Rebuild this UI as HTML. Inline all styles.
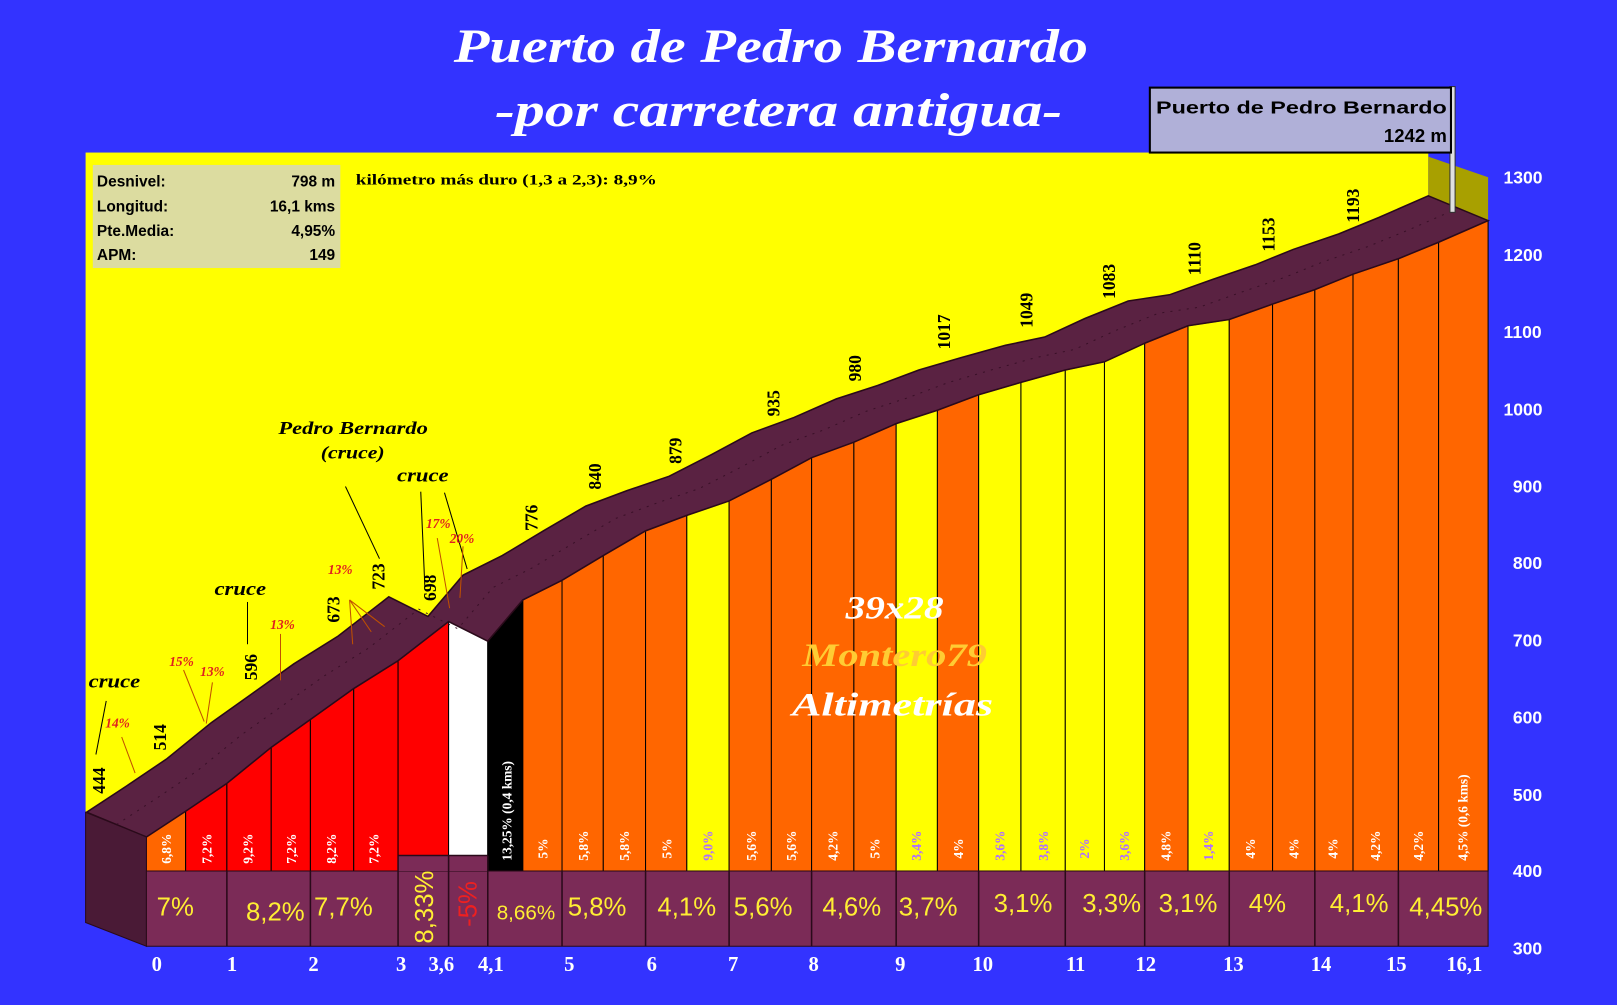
<!DOCTYPE html>
<html><head><meta charset="utf-8"><style>
html,body{margin:0;padding:0;background:#3333ff;width:1617px;height:1005px;overflow:hidden}
svg{display:block}
.t{font-family:"Liberation Serif",serif;font-weight:bold;font-style:italic;fill:#fff}
.s{font-family:"Liberation Sans",sans-serif;font-weight:bold}
.k{font-family:"Liberation Serif",serif;font-weight:bold;fill:#fff;font-size:20px;text-anchor:middle}
.y{font-family:"Liberation Sans",sans-serif;font-weight:bold;fill:#fff;font-size:17px}
.p{font-family:"Liberation Sans",sans-serif;fill:#ffee33;font-size:25px;text-anchor:middle}
.sp{font-family:"Liberation Serif",serif;font-weight:bold;fill:#fff;font-size:13px}
.el{font-family:"Liberation Serif",serif;font-weight:bold;fill:#000;font-size:17px}
.an{font-family:"Liberation Serif",serif;font-weight:bold;font-style:italic;fill:#000;font-size:18px}
.rp{font-family:"Liberation Serif",serif;font-weight:bold;font-style:italic;fill:#e02020;font-size:13px}
</style></head><body>
<svg width="1617" height="1005" viewBox="0 0 1568 975" preserveAspectRatio="none" xmlns="http://www.w3.org/2000/svg">
<rect width="1568" height="975" fill="#3333ff"/>
<text class="t" x="440" y="60" font-size="46" textLength="615" lengthAdjust="spacingAndGlyphs">Puerto de Pedro Bernardo</text>
<text class="t" x="480" y="122" font-size="46" textLength="550" lengthAdjust="spacingAndGlyphs">-por carretera antigua-</text>
<!-- yellow wall -->
<rect x="83" y="148" width="1302" height="640" fill="#ffff00"/>
<polygon points="1385,152 1443,172 1443,214 1385,190" fill="#a8a000"/>
<!-- bars -->
<g stroke="#000" stroke-width="1">
<polygon points="142,845 142,812 180,787 180,845" fill="#ff6600"/>
<polygon points="180,845 180,787 220,760 220,845" fill="#ff0000"/>
<polygon points="220,845 220,760 263,725 263,845" fill="#ff0000"/>
<polygon points="263,845 263,725 301,698 301,845" fill="#ff0000"/>
<polygon points="301,845 301,698 343,668 343,845" fill="#ff0000"/>
<polygon points="343,845 343,668 386,641 386,845" fill="#ff0000"/>
<polygon points="386,830 386,641 435,603 435,830" fill="#ff0000"/>
<polygon points="435,830 435,603 473,622 473,830" fill="#ffffff"/>
<polygon points="473,845 473,622 507,582 507,845" fill="#000000"/>
<polygon points="507,845 507,582 545,563 545,845" fill="#ff6600"/>
<polygon points="545,845 545,563 585,539 585,845" fill="#ff6600"/>
<polygon points="585,845 585,539 626,515 626,845" fill="#ff6600"/>
<polygon points="626,845 626,515 666,500 666,845" fill="#ff6600"/>
<polygon points="666,845 666,500 707,486 707,845" fill="#ffff00"/>
<polygon points="707,845 707,486 748,465 748,845" fill="#ff6600"/>
<polygon points="748,845 748,465 787,444 787,845" fill="#ff6600"/>
<polygon points="787,845 787,444 828,429 828,845" fill="#ff6600"/>
<polygon points="828,845 828,429 869,411 869,845" fill="#ff6600"/>
<polygon points="869,845 869,411 909,398 909,845" fill="#ffff00"/>
<polygon points="909,845 909,398 949,383 949,845" fill="#ff6600"/>
<polygon points="949,845 949,383 990,371 990,845" fill="#ffff00"/>
<polygon points="990,845 990,371 1033,359 1033,845" fill="#ffff00"/>
<polygon points="1033,845 1033,359 1071,351 1071,845" fill="#ffff00"/>
<polygon points="1071,845 1071,351 1110,333 1110,845" fill="#ffff00"/>
<polygon points="1110,845 1110,333 1152,316 1152,845" fill="#ff6600"/>
<polygon points="1152,845 1152,316 1192,310 1192,845" fill="#ffff00"/>
<polygon points="1192,845 1192,310 1234,295 1234,845" fill="#ff6600"/>
<polygon points="1234,845 1234,295 1275,281 1275,845" fill="#ff6600"/>
<polygon points="1275,845 1275,281 1312,266 1312,845" fill="#ff6600"/>
<polygon points="1312,845 1312,266 1356,251 1356,845" fill="#ff6600"/>
<polygon points="1356,845 1356,251 1395,235 1395,845" fill="#ff6600"/>
<polygon points="1395,845 1395,235 1443,214 1443,845" fill="#ff6600"/>
</g>
<!-- road top -->
<polygon fill="#5a2242" stroke="#2a0a1a" stroke-width="1.5" points="142,812 180,787 220,760 263,725 301,698 343,668 386,641 435,603 473,622 507,582 545,563 585,539 626,515 666,500 707,486 748,465 787,444 828,429 869,411 909,398 949,383 990,371 1033,359 1071,351 1110,333 1152,316 1192,310 1234,295 1275,281 1312,266 1356,251 1395,235 1443,214 1385,190 1337,211 1298,227 1254,242 1217,257 1176,271 1134,286 1094,292 1052,309 1013,327 975,335 932,347 891,359 851,374 811,387 770,405 729,420 690,441 649,462 608,476 568,491 527,515 487,539 449,558 415,598 377,579 328,617 285,644 243,674 205,701 162,736 122,763 84,788"/>
<polyline fill="none" stroke="#3a1028" stroke-width="1" stroke-dasharray="2,6" points="113,800 151,775 191,748 234,713 272,686 314,656 357,629 406,591 444,610 478,570 516,551 556,527 597,503 637,488 678,474 719,453 758,432 799,417 840,399 880,386 920,371 961,359 1004,347 1042,339 1081,321 1123,304 1163,298 1205,283 1246,269 1283,254 1327,239 1366,223 1414,202"/>
<!-- left face -->
<polygon points="83,788 142,812 142,918 83,895" fill="#4a1a36" stroke="#2a0a1a"/>
<!-- bottom band -->
<rect x="142" y="845" width="1301" height="73" fill="#7b2b57" stroke="#2a0a1a"/>
<rect x="386" y="830" width="87" height="15" fill="#7b2b57"/>
<g stroke="#2a0a1a" stroke-width="1.5">
<line x1="220" y1="845" x2="220" y2="918"/><line x1="301" y1="845" x2="301" y2="918"/>
<line x1="386" y1="830" x2="386" y2="918"/><line x1="435" y1="830" x2="435" y2="918"/>
<line x1="473" y1="830" x2="473" y2="918"/><line x1="545" y1="845" x2="545" y2="918"/>
<line x1="626" y1="845" x2="626" y2="918"/><line x1="707" y1="845" x2="707" y2="918"/>
<line x1="787" y1="845" x2="787" y2="918"/><line x1="869" y1="845" x2="869" y2="918"/>
<line x1="949" y1="845" x2="949" y2="918"/><line x1="1033" y1="845" x2="1033" y2="918"/>
<line x1="1110" y1="845" x2="1110" y2="918"/><line x1="1192" y1="845" x2="1192" y2="918"/>
<line x1="1275" y1="845" x2="1275" y2="918"/><line x1="1356" y1="845" x2="1356" y2="918"/>
<line x1="386" y1="830" x2="473" y2="830"/>
</g>
<!-- big percentages -->
<text class="p" x="170" y="888">7%</text>
<text class="p" x="267" y="893">8,2%</text>
<text class="p" x="333" y="888">7,7%</text>
<text class="p" x="0" y="0" transform="translate(420,880) rotate(-90)" text-anchor="middle">8,33%</text>
<text class="p" x="0" y="0" transform="translate(462,877) rotate(-90)" text-anchor="middle" style="fill:#ee2020">-5%</text>
<text class="p" x="510" y="892" style="font-size:20px">8,66%</text>
<text class="p" x="579" y="888">5,8%</text>
<text class="p" x="666" y="888">4,1%</text>
<text class="p" x="740" y="888">5,6%</text>
<text class="p" x="826" y="888">4,6%</text>
<text class="p" x="900" y="888">3,7%</text>
<text class="p" x="992" y="885">3,1%</text>
<text class="p" x="1078" y="885">3,3%</text>
<text class="p" x="1152" y="885">3,1%</text>
<text class="p" x="1229" y="885">4%</text>
<text class="p" x="1318" y="885">4,1%</text>
<text class="p" x="1402" y="888">4,45%</text>
<!-- small pct -->
<g class="sp">
<text transform="translate(166,838) rotate(-90)">6,8%</text>
<text transform="translate(205,838) rotate(-90)">7,2%</text>
<text transform="translate(245,838) rotate(-90)">9,2%</text>
<text transform="translate(287,838) rotate(-90)">7,2%</text>
<text transform="translate(326,838) rotate(-90)">8,2%</text>
<text transform="translate(367,838) rotate(-90)">7,2%</text>
<text transform="translate(496,835) rotate(-90)">13,25%  (0,4 kms)</text>
<text transform="translate(531,833) rotate(-90)">5%</text>
<text transform="translate(570,835) rotate(-90)">5,8%</text>
<text transform="translate(610,835) rotate(-90)">5,8%</text>
<text transform="translate(651,833) rotate(-90)">5%</text>
<text transform="translate(691,835) rotate(-90)" style="fill:#b070ff">9,0%</text>
<text transform="translate(733,835) rotate(-90)">5,6%</text>
<text transform="translate(772,835) rotate(-90)">5,6%</text>
<text transform="translate(812,835) rotate(-90)">4,2%</text>
<text transform="translate(853,833) rotate(-90)">5%</text>
<text transform="translate(893,835) rotate(-90)" style="fill:#b070ff">3,4%</text>
<text transform="translate(934,833) rotate(-90)">4%</text>
<text transform="translate(974,835) rotate(-90)" style="fill:#b070ff">3,6%</text>
<text transform="translate(1016,835) rotate(-90)" style="fill:#b070ff">3,8%</text>
<text transform="translate(1056,833) rotate(-90)" style="fill:#b070ff">2%</text>
<text transform="translate(1095,835) rotate(-90)" style="fill:#b070ff">3,6%</text>
<text transform="translate(1135,835) rotate(-90)">4,8%</text>
<text transform="translate(1176,835) rotate(-90)" style="fill:#b070ff">1,4%</text>
<text transform="translate(1217,833) rotate(-90)">4%</text>
<text transform="translate(1259,833) rotate(-90)">4%</text>
<text transform="translate(1297,833) rotate(-90)">4%</text>
<text transform="translate(1338,835) rotate(-90)">4,2%</text>
<text transform="translate(1380,835) rotate(-90)">4,2%</text>
<text transform="translate(1423,835) rotate(-90)">4,5% (0,6 kms)</text>
</g>
<!-- km labels -->
<g class="k">
<text x="152" y="942">0</text><text x="225" y="942">1</text><text x="304" y="942">2</text>
<text x="389" y="942">3</text><text x="428" y="942">3,6</text><text x="476" y="942">4,1</text>
<text x="552" y="942">5</text><text x="632" y="942">6</text><text x="711" y="942">7</text>
<text x="789" y="942">8</text><text x="873" y="942">9</text><text x="953" y="942">10</text>
<text x="1043" y="942">11</text><text x="1111" y="942">12</text><text x="1196" y="942">13</text>
<text x="1281" y="942">14</text><text x="1354" y="942">15</text><text x="1420" y="942">16,1</text>
</g>
<g class="y">
<text x="1458" y="178">1300</text><text x="1458" y="253">1200</text><text x="1458" y="328">1100</text>
<text x="1458" y="403">1000</text><text x="1467" y="478">900</text><text x="1467" y="552">800</text>
<text x="1467" y="627">700</text><text x="1467" y="702">600</text><text x="1467" y="777">500</text>
<text x="1467" y="851">400</text><text x="1467" y="926">300</text>
</g>
<!-- elevation labels -->
<g class="el">
<text transform="translate(102,770) rotate(-90)">444</text>
<text transform="translate(161,728) rotate(-90)">514</text>
<text transform="translate(249,660) rotate(-90)">596</text>
<text transform="translate(329,604) rotate(-90)">673</text>
<text transform="translate(373,572) rotate(-90)">723</text>
<text transform="translate(423,583) rotate(-90)">698</text>
<text transform="translate(521,515) rotate(-90)">776</text>
<text transform="translate(583,475) rotate(-90)">840</text>
<text transform="translate(661,450) rotate(-90)">879</text>
<text transform="translate(756,404) rotate(-90)">935</text>
<text transform="translate(835,370) rotate(-90)">980</text>
<text transform="translate(921,339) rotate(-90)">1017</text>
<text transform="translate(1001,318) rotate(-90)">1049</text>
<text transform="translate(1081,290) rotate(-90)">1083</text>
<text transform="translate(1164,267) rotate(-90)">1110</text>
<text transform="translate(1236,244) rotate(-90)">1153</text>
<text transform="translate(1318,216) rotate(-90)">1193</text>
</g>
<!-- annotations -->
<g stroke="#000" stroke-width="1" fill="none">
<line x1="103" y1="680" x2="93" y2="732"/>
<line x1="240" y1="584" x2="240" y2="625"/>
<line x1="335" y1="472" x2="368" y2="542"/>
<line x1="408" y1="477" x2="412" y2="570"/>
<line x1="431" y1="478" x2="453" y2="552"/>
</g>
<g stroke="#c05000" stroke-width="1" fill="none">
<line x1="118" y1="715" x2="131" y2="750"/>
<line x1="178" y1="650" x2="198" y2="700"/>
<line x1="206" y1="662" x2="200" y2="702"/>
<line x1="272" y1="615" x2="272" y2="660"/>
<line x1="339" y1="582" x2="342" y2="625"/>
<line x1="339" y1="582" x2="373" y2="608"/>
<line x1="339" y1="582" x2="360" y2="613"/>
<line x1="424" y1="522" x2="436" y2="590"/>
<line x1="449" y1="530" x2="446" y2="580"/>
</g>
<text class="an" x="86" y="667" textLength="50" lengthAdjust="spacingAndGlyphs">cruce</text>
<text class="an" x="208" y="577" textLength="50" lengthAdjust="spacingAndGlyphs">cruce</text>
<text class="an" x="270" y="421" style="font-size:17px" textLength="145" lengthAdjust="spacingAndGlyphs">Pedro Bernardo</text>
<text class="an" x="311" y="445" style="font-size:17px" textLength="62" lengthAdjust="spacingAndGlyphs">(cruce)</text>
<text class="an" x="385" y="467" textLength="50" lengthAdjust="spacingAndGlyphs">cruce</text>
<text class="rp" x="114" y="706" text-anchor="middle">14%</text>
<text class="rp" x="176" y="646" text-anchor="middle">15%</text>
<text class="rp" x="206" y="656" text-anchor="middle">13%</text>
<text class="rp" x="274" y="610" text-anchor="middle">13%</text>
<text class="rp" x="330" y="557" text-anchor="middle">13%</text>
<text class="rp" x="425" y="512" text-anchor="middle">17%</text>
<text class="rp" x="448" y="527" text-anchor="middle">20%</text>
<!-- watermark -->
<text class="t" x="820" y="600" font-size="32" textLength="95" lengthAdjust="spacingAndGlyphs">39x28</text>
<text class="t" x="778" y="646" font-size="32" style="fill:#ffcc33" textLength="179" lengthAdjust="spacingAndGlyphs">Montero79</text>
<text class="t" x="768" y="694" font-size="32" textLength="195" lengthAdjust="spacingAndGlyphs">Altimetrías</text>
<!-- info box -->
<rect x="90" y="160" width="240" height="100" fill="#dcdca0"/>
<g class="s" font-size="15" fill="#000">
<text x="94" y="181">Desnivel:</text><text x="325" y="181" text-anchor="end">798 m</text>
<text x="94" y="205">Longitud:</text><text x="325" y="205" text-anchor="end">16,1 kms</text>
<text x="94" y="229">Pte.Media:</text><text x="325" y="229" text-anchor="end">4,95%</text>
<text x="94" y="252">APM:</text><text x="325" y="252" text-anchor="end">149</text>
</g>
<text x="345" y="179" font-family="Liberation Serif,serif" font-weight="bold" font-size="14" fill="#000" textLength="292" lengthAdjust="spacingAndGlyphs">kilómetro más duro (1,3 a 2,3):  8,9%</text>
<!-- summit flag -->
<rect x="1406" y="84" width="5" height="122" fill="#e0e0e0" stroke="#333"/>
<rect x="1115" y="85" width="292" height="63" fill="#b0b0d8" stroke="#000" stroke-width="2"/>
<text class="s" x="1121" y="110" font-size="17" fill="#000" textLength="282" lengthAdjust="spacingAndGlyphs">Puerto de Pedro Bernardo</text>
<text class="s" x="1403" y="138" font-size="18" text-anchor="end" fill="#000">1242 m</text>
</svg>
</body></html>
